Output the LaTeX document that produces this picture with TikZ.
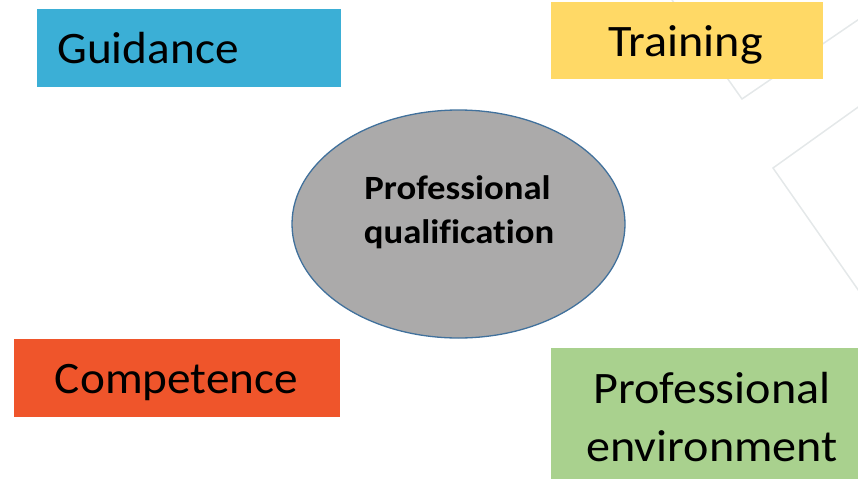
\documentclass[tikz,border=0pt]{standalone}
\usepackage{fontspec}
\setmainfont{Carlito}[Ligatures=NoCommon]
\usetikzlibrary{shapes.geometric}
\definecolor{cblue}{HTML}{3BAFD6}
\definecolor{cyellow}{HTML}{FFD966}
\definecolor{corange}{HTML}{EF552B}
\definecolor{cgreen}{HTML}{A9D18E}
\definecolor{cgray}{HTML}{ABAAAA}
\definecolor{cedge}{HTML}{41719C}
\definecolor{cfaint}{HTML}{E4E8E9}
\tikzset{
  box/.style={draw=none,inner sep=0pt,outer sep=0pt},
  boxtext/.style={inner sep=0pt,anchor=base,font=\fontsize{45}{54}\selectfont},
  centertext/.style={inner sep=0pt,anchor=base,font=\fontsize{34}{40}\selectfont\bfseries},
  faint/.style={draw=cfaint,line width=1.5pt}
}
\begin{document}
\begin{tikzpicture}[x=1pt,y=-1pt]
\useasboundingbox (0,0) rectangle (858,479);
% faint background shapes
\draw[faint] (672,0) -- (742,99) -- (868,13);
\draw[faint] (868,100) -- (773,168) -- (868,304);
% boxes
\fill[cblue] (37,9) rectangle (341,87);
\fill[cyellow] (551,2) rectangle (823,79);
\fill[corange] (14,339) rectangle (340,417);
\fill[cgreen] (551,348) rectangle (858,479);
\node[box] (guid) at (189,48) {};
\node[box] (train) at (687,40) {};
\node[box] (comp) at (177,378) {};
\node[box] (env) at (704,414) {};
% ellipse
\node[ellipse,draw=cedge,line width=1.3pt,fill=cgray,minimum width=333pt,minimum height=228pt,inner sep=0pt] (qual) at (458.5,224) {};
% texts
\node[boxtext] (tguid) at (148,63) {\scalebox{1.05}[1]{Guidance}};
\node[boxtext] (ttrain) at (685.5,56) {\scalebox{1.07}[1]{Training}};
\node[boxtext] (tcomp) at (176.5,393) {\scalebox{1.05}[1]{Competence}};
\node[boxtext] (tenv1) at (712,403) {\scalebox{1.07}[1]{Professional}};
\node[boxtext] (tenv2) at (712,461) {\scalebox{1.07}[1]{environment}};
\node[centertext] (tq1) at (457.5,199) {\scalebox{1.08}[1]{Professional}};
\node[centertext] (tq2) at (459,243) {\scalebox{1.08}[1]{qualification}};
\end{tikzpicture}
\end{document}
